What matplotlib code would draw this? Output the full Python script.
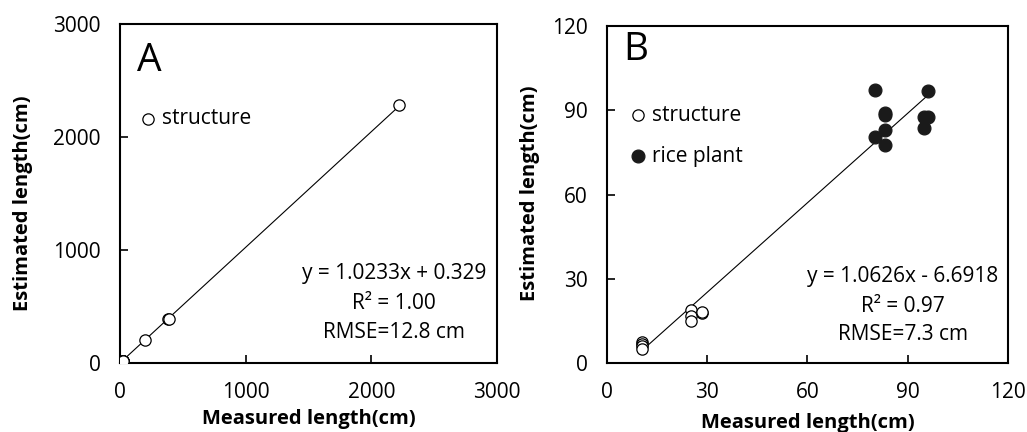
import matplotlib
matplotlib.use('Agg')
import matplotlib.pyplot as plt

plt.rcParams['font.family'] = ['Open Sans', 'DejaVu Sans']

# panel A: structure only (cm)
a_measured = [10.5, 10.5, 10.5, 10.5, 25, 25, 25, 28, 28, 200, 385, 392, 2220]
a_estimated = [7.5, 6.8, 6.0, 5.0, 18.8, 16.8, 14.8, 17.8, 18.0, 204, 386, 392, 2283]
a_slope, a_icpt = 1.0233, 0.329

# panel B: structure and rice plant (cm)
b_struct_measured = [10.5, 10.5, 10.5, 10.5, 25, 25, 25, 28.3, 28.3]
b_struct_estimated = [7.5, 6.8, 6.0, 5.0, 18.8, 16.8, 14.8, 17.8, 18.0]
b_rice_measured = [80.2, 96.1, 83.2, 83.2, 83.2, 80.2, 83.2, 94.8, 96.1, 95.0]
b_rice_estimated = [97.2, 97.0, 89.2, 88.2, 83.0, 80.4, 77.6, 87.7, 87.5, 83.8]
b_slope, b_icpt = 1.0626, -6.6918

fig = plt.figure(figsize=(10.27, 4.32), dpi=100)
axA = fig.add_axes([0.1168, 0.1597, 0.3671, 0.7847])
axB = fig.add_axes([0.5910, 0.1597, 0.3905, 0.7801])

fs = 15


def style(ax, lim, step):
    ax.set_xlim(0, lim)
    ax.set_ylim(0, lim)
    ticks = list(range(0, lim + 1, step))
    ax.set_xticks(ticks)
    ax.set_yticks(ticks)
    ax.tick_params(direction='in', length=6, width=1.2, labelsize=fs, pad=14)
    for s in ax.spines.values():
        s.set_linewidth(1.5)
    ax.set_xlabel('Measured length(cm)', fontsize=14.5, fontweight='bold')
    ax.set_ylabel('Estimated length(cm)', fontsize=14.5, fontweight='bold')


# A
style(axA, 3000, 1000)
xs = [min(a_measured), max(a_measured)]
axA.plot(xs, [a_slope * x + a_icpt for x in xs], color='black', lw=0.8, zorder=2)
axA.scatter(a_measured, a_estimated, s=66, facecolors='white', edgecolors='black',
            linewidths=0.9, label='structure', zorder=3)
axA.legend(loc='center left', bbox_to_anchor=(0.056, 0.72), frameon=False, fontsize=fs,
           handlelength=0.7, handletextpad=0.3, borderpad=0, borderaxespad=0)
axA.text(0.045, 0.89, 'A', transform=axA.transAxes, fontsize=28, va='center', ha='left')
axA.text(0.727, 0.265, 'y = 1.0233x + 0.329', transform=axA.transAxes, fontsize=fs, ha='center', va='center')
axA.text(0.727, 0.177, 'R² = 1.00', transform=axA.transAxes, fontsize=fs, ha='center', va='center')
axA.text(0.727, 0.091, 'RMSE=12.8 cm', transform=axA.transAxes, fontsize=fs, ha='center', va='center')
axA.xaxis.set_label_coords(0.5, -0.137)
axA.yaxis.set_label_coords(-0.231, 0.47)

# B
style(axB, 120, 30)
allx = b_struct_measured + b_rice_measured
xs = [min(allx), max(allx)]
axB.plot(xs, [b_slope * x + b_icpt for x in xs], color='black', lw=0.8, zorder=2)
axB.scatter(b_struct_measured, b_struct_estimated, s=66, facecolors='white', edgecolors='black',
            linewidths=0.9, label='structure', zorder=3)
axB.scatter(b_rice_measured, b_rice_estimated, s=85, facecolors='#1a1a1a', edgecolors='#1a1a1a',
            linewidths=0.9, label='rice plant', zorder=3)
axB.legend(loc='center left', bbox_to_anchor=(0.06, 0.674), frameon=False, fontsize=fs,
           handlelength=0.7, handletextpad=0.3, borderpad=0, borderaxespad=0, labelspacing=0.96)
axB.text(0.04, 0.93, 'B', transform=axB.transAxes, fontsize=28, va='center', ha='left')
axB.text(0.738, 0.258, 'y = 1.0626x - 6.6918', transform=axB.transAxes, fontsize=fs, ha='center', va='center')
axB.text(0.738, 0.169, 'R² = 0.97', transform=axB.transAxes, fontsize=fs, ha='center', va='center')
axB.text(0.738, 0.086, 'RMSE=7.3 cm', transform=axB.transAxes, fontsize=fs, ha='center', va='center')
axB.xaxis.set_label_coords(0.5, -0.149)
axB.yaxis.set_label_coords(-0.167, 0.504)

fig.savefig('out.png', dpi=100)
